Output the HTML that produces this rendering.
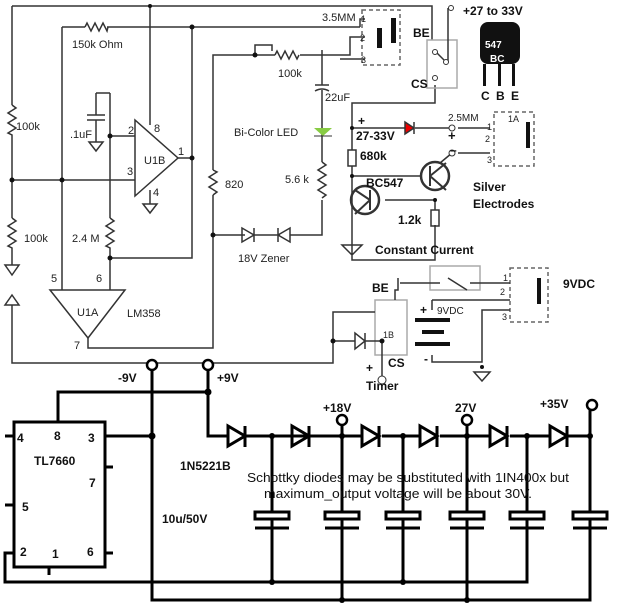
<!DOCTYPE html>
<html><head><meta charset="utf-8"><style>
html,body{margin:0;padding:0;background:#fff}
svg{display:block}
text{font-family:"Liberation Sans",sans-serif}
</style></head><body>
<svg width="628" height="606" viewBox="0 0 628 606" xmlns="http://www.w3.org/2000/svg">
<rect width="628" height="606" fill="#fff"/>
<g stroke="#333" stroke-width="1.5" fill="none">
<path d="M12 6 H432 V40"/>
<path d="M12 6 V105 M12 140 V218 M12 255 V265"/>
<path d="M12 105 l4 3 l-8 5 l8 5 l-8 5 l8 5 l-8 5 l4 2 V140"/>
<path d="M12 218 l4 3 l-8 5 l8 5 l-8 5 l8 5 l-8 5 l4 2 V255"/>
<path d="M5 265 h14 l-7 10 z"/>
<path d="M5 305 h14 l-7 -10 z"/>
<path d="M12 305 V363 H333 V341"/>
<path d="M62 27 H85 M107 27 H360"/>
<path d="M85 27 l2 -4 l4 8 l4 -8 l4 8 l4 -8 l4 8 l1 -4"/>
<path d="M150 6 V125"/>
<path d="M62 27 V290"/>
<path d="M12 180 H135"/>
<path d="M135 120 V196 L178 158 Z"/>
<path d="M178 158 H192"/>
<path d="M192 27 V258 H110"/>
<path d="M110 93 V136 H135 M110 136 V218 M110 250 V290"/>
<path d="M110 218 l4 3 l-8 5 l8 5 l-8 5 l8 5 l-8 5 l4 2 V250"/>
<path d="M96 93 H110 M96 93 V115 M87 115 H105 M87 120 H105 M96 120 V142 M89 142 h14 l-7 9 z"/>
<path d="M150 190 V204 M143 204 h14 l-7 9 z"/>
<path d="M50 290 H125 L88 338 Z"/>
<path d="M88 338 V348 H213 V195 M213 170 V55 H275 M300 55 H350 V37 H365"/>
<path d="M213 170 l4 2 l-8 5 l8 5 l-8 5 l8 5 l-4 3"/>
<path d="M275 55 l2 -4 l4 8 l4 -8 l4 8 l4 -8 l4 8 l2 -4"/>
<path d="M255 55 V45 H272 V51"/>
<path d="M360 27 V19 H365 M340 59 H365"/>
<path d="M322 50 V85 M315 85 H329 M315 91 Q322 87 329 91 M322 90 V162 M322 200 V235 H290 M245 235 H213"/>
<path d="M322 162 l4 3 l-8 5 l8 5 l-8 5 l8 5 l-8 5 l8 5 l-4 3"/>
<path d="M242 228 V242 L254 235 Z M254 228 V242 M254 235 H280 M290 228 V242 L278 235 Z M278 228 V242"/>
<path d="M435 85 V103 H352 V150 M352 166 V260 H435 V225 M352 128 H405 M415 128 H452 M458 128 H490 M458 153 H490 M452 153 L440 163 M352 176 H422 M385 200 H435 V210 M342 245 h20 l-10 10 z M352 245 V230"/>
<path d="M414 122 v12 M405 122 v12 l9 -6 z" fill="#e00"/>
<rect x="348" y="150" width="8" height="16"/>
<rect x="431" y="210" width="8" height="16"/>
<circle cx="435" cy="176" r="14" stroke-width="2.5"/>
<circle cx="365" cy="200" r="14" stroke-width="2.5"/>
<path d="M430 166 V186 M430 176 L446 163 M430 176 L446 190 M370 190 V210 M370 200 L355 190 M370 200 L355 214" stroke-width="2"/>
<rect x="427" y="40" width="30" height="48" stroke="#aaa"/>
<path d="M448 8 V62 M434 50 L446 62"/>
<rect x="362" y="10" width="38" height="55" stroke="#666" stroke-dasharray="4 3"/>
<rect x="494" y="112" width="40" height="54" stroke="#666" stroke-dasharray="4 3"/>
<rect x="430" y="266" width="50" height="24" stroke="#aaa"/>
<rect x="375" y="300" width="32" height="55" stroke="#aaa"/>
<rect x="510" y="268" width="38" height="54" stroke="#666" stroke-dasharray="4 3"/>
<path d="M398 278 V290 H395 V300 M400 283 H440 M448 278 L467 290 M470 283 H510 M432 300 H510 M432 300 V310 M432 355 V362 H482 V310 H510 M333 341 H355 M365 341 H382 V380 M333 341 V312 H375"/>
<path d="M355 333 v16 l10 -8 z M365 333 V349" fill="none"/>
<path d="M474 372 h16 l-8 9 z"/>
</g>
<g fill="#111">
<rect x="377" y="28" width="5" height="20"/><rect x="391" y="18" width="5" height="25"/>
<rect x="526" y="122" width="4" height="26"/><rect x="537" y="278" width="4" height="26"/>
<rect x="415" y="318" width="35" height="4"/><rect x="422" y="330" width="22" height="4"/><rect x="415" y="342" width="35" height="4"/>
<rect x="480" y="22" width="40" height="42" rx="8"/>
<rect x="483" y="64" width="3" height="22"/><rect x="498" y="64" width="3" height="22"/><rect x="512" y="64" width="3" height="22"/>
</g>
<path d="M314 128 h18 l-9 8 z" fill="#8c4"/><path d="M314 136 h18" stroke="#333"/>
<g fill="#fff" stroke="#333" stroke-width="1">
<circle cx="451" cy="8" r="2.5"/><circle cx="435" cy="52" r="2.5"/><circle cx="446" cy="62" r="2.5"/><circle cx="435" cy="78" r="2.5"/>
<circle cx="452" cy="128" r="3"/><circle cx="452" cy="153" r="3"/>
<circle cx="382" cy="380" r="4"/>
</g>
<g fill="#111"><circle cx="150" cy="6" r="2"/><circle cx="192" cy="27" r="2.5"/><circle cx="192" cy="158" r="2.5"/><circle cx="12" cy="180" r="2.5"/><circle cx="62" cy="180" r="2.5"/><circle cx="110" cy="136" r="2.5"/><circle cx="110" cy="258" r="2.5"/><circle cx="213" cy="235" r="2.5"/><circle cx="255" cy="55" r="2.5"/><circle cx="352" cy="128" r="2"/><circle cx="352" cy="176" r="2"/><circle cx="435" cy="200" r="2"/><circle cx="333" cy="341" r="2.5"/><circle cx="382" cy="341" r="2.5"/><circle cx="482" cy="367" r="2"/></g>
<g font-size="11" fill="#222">
<text x="72" y="48">150k Ohm</text><text x="16" y="130">100k</text><text x="24" y="242">100k</text>
<text x="70" y="138">.1uF</text><text x="72" y="242">2.4 M</text><text x="144" y="164">U1B</text>
<text x="128" y="134">2</text><text x="154" y="132">8</text><text x="178" y="155">1</text><text x="127" y="175">3</text><text x="153" y="196">4</text>
<text x="51" y="282">5</text><text x="96" y="282">6</text><text x="77" y="316">U1A</text><text x="127" y="317">LM358</text><text x="74" y="349">7</text>
<text x="225" y="188">820</text><text x="234" y="136">Bi-Color LED</text><text x="285" y="183">5.6 k</text><text x="278" y="77">100k</text>
<text x="325" y="101">22uF</text><text x="238" y="262">18V Zener</text><text x="322" y="21">3.5MM</text>
<text x="361" y="22" font-size="9">1</text><text x="360" y="41" font-size="9">2</text><text x="361" y="63" font-size="9">3</text>
<text x="448" y="121" font-size="10">2.5MM</text><text x="487" y="130" font-size="9">1</text><text x="485" y="142" font-size="9">2</text><text x="487" y="163" font-size="9">3</text><text x="508" y="122" font-size="9">1A</text>
<text x="503" y="281" font-size="9">1</text><text x="500" y="295" font-size="9">2</text><text x="502" y="320" font-size="9">3</text><text x="437" y="314" font-size="10">9VDC</text><text x="383" y="338" font-size="9">1B</text>
</g>
<g font-size="12" font-weight="bold" fill="#111">
<text x="413" y="37">BE</text><text x="411" y="88">CS</text><text x="463" y="15">+27 to 33V</text>
<text x="485" y="48" fill="#fff" font-size="10">547</text><text x="490" y="62" fill="#fff" font-size="10">BC</text>
<text x="481" y="100">C</text><text x="496" y="100">B</text><text x="511" y="100">E</text>
<text x="358" y="125">+</text><text x="356" y="140">27-33V</text><text x="360" y="160">680k</text><text x="366" y="187">BC547</text><text x="398" y="224">1.2k</text>
<text x="448" y="140" font-size="13">+</text><text x="450" y="154">–</text>
<text x="473" y="191">Silver</text><text x="473" y="208">Electrodes</text><text x="375" y="254">Constant Current</text>
<text x="372" y="292">BE</text><text x="388" y="367">CS</text><text x="366" y="372">+</text><text x="366" y="390">Timer</text>
<text x="563" y="288">9VDC</text><text x="420" y="314">+</text><text x="424" y="363">-</text>
</g>
<g stroke="#000" stroke-width="3" fill="none">
<rect x="14" y="422" width="91" height="145"/>
<path d="M5 436 H14 M5 505 H14 M105 467 H113 M105 553 H113 M49 567 V575"/>
<path d="M14 553 H5 V582 H527 V437"/>
<path d="M152 369 V600 H590 V437 M105 436 H152"/>
<path d="M58 422 V392 H208 M208 369 V436 H228 M245 436 H362 M382 436 H420 M440 436 H490 M510 436 H550 M568 436 H590 V409"/>
<path d="M342 424 V600 M467 424 V600 M272 436 V582 M403 436 V582"/>
<path d="M228 426 V446 L245 436 Z M245 426 V447"/>
<path d="M292 426 V446 L309 436 Z M309 426 V447 M309 436 H318"/>
<path d="M362 426 V446 L379 436 Z M379 426 V447"/>
<path d="M420 426 V446 L437 436 Z M437 426 V447"/>
<path d="M490 426 V446 L507 436 Z M507 426 V447"/>
<path d="M550 426 V446 L567 436 Z M567 426 V447"/>
</g>
<g fill="#fff" stroke="#000" stroke-width="3">
<rect x="255" y="512" width="34" height="7"/><rect x="325" y="512" width="34" height="7"/><rect x="386" y="512" width="34" height="7"/><rect x="450" y="512" width="34" height="7"/><rect x="510" y="512" width="34" height="7"/><rect x="573" y="512" width="34" height="7"/>
</g>
<g stroke="#000" stroke-width="3"><path d="M255 528 H289 M325 528 H359 M386 528 H420 M450 528 H484 M510 528 H544 M573 528 H607"/></g>
<g fill="#fff" stroke="#000" stroke-width="2.5"><circle cx="152" cy="365" r="5"/><circle cx="208" cy="365" r="5"/><circle cx="342" cy="420" r="5"/><circle cx="467" cy="420" r="5"/><circle cx="592" cy="405" r="5"/></g>
<g fill="#000"><circle cx="208" cy="392" r="3.5"/><circle cx="152" cy="436" r="3.5"/><circle cx="272" cy="436" r="3"/><circle cx="342" cy="436" r="3"/><circle cx="403" cy="436" r="3"/><circle cx="467" cy="436" r="3"/><circle cx="527" cy="436" r="3"/><circle cx="590" cy="436" r="3"/><circle cx="272" cy="582" r="3"/><circle cx="403" cy="582" r="3"/><circle cx="342" cy="600" r="3"/><circle cx="467" cy="600" r="3"/></g>
<g font-size="12" font-weight="bold" fill="#111">
<text x="118" y="382">-9V</text><text x="217" y="382">+9V</text><text x="323" y="412">+18V</text><text x="455" y="412">27V</text><text x="540" y="408">+35V</text>
<text x="17" y="442">4</text><text x="54" y="440">8</text><text x="88" y="442">3</text><text x="34" y="465">TL7660</text><text x="89" y="487">7</text><text x="22" y="511">5</text><text x="20" y="556">2</text><text x="52" y="558">1</text><text x="87" y="556">6</text>
<text x="180" y="470">1N5221B</text><text x="162" y="523">10u/50V</text>
</g>
<g font-size="13" fill="#111"><text x="247" y="482" textLength="322" lengthAdjust="spacingAndGlyphs">Schottky diodes may be substituted with 1IN400x but</text><text x="264" y="498" textLength="268" lengthAdjust="spacingAndGlyphs">maximum_output voltage will be about 30V.</text></g>
</svg>
</body></html>
